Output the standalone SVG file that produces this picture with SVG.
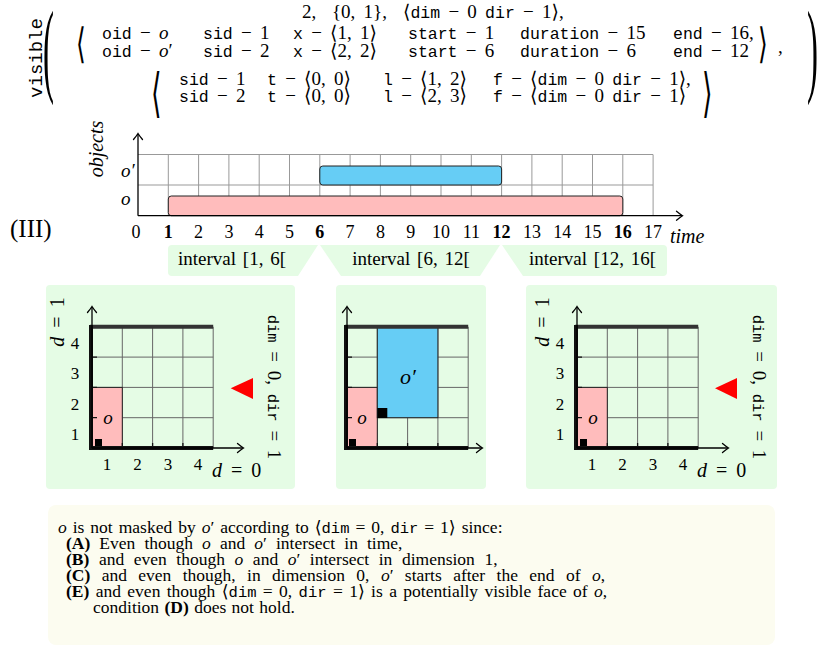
<svg xmlns="http://www.w3.org/2000/svg" width="821" height="649" viewBox="0 0 821 649">
<style>
.s{font-family:"Liberation Serif","DejaVu Serif",serif;font-size:19px;fill:#000}
.m{font-family:"Liberation Mono","DejaVu Sans Mono",monospace;font-size:16.5px}
.fm{word-spacing:3.5px}
.i{font-style:italic}
.b{font-weight:bold}
.ang{font-family:"DejaVu Serif","DejaVu Sans",serif}
.tg{stroke:#999;stroke-width:1;fill:none}
.pg{stroke:#666;stroke-width:1;fill:none}
.ax{stroke:#000;stroke-width:1.3;fill:none;marker-end:url(#arr)}
.green{fill:#e5fce5}
.pink{fill:#ffbcbc;stroke:#222;stroke-width:1}
.blue{fill:#66cdf5;stroke:#222;stroke-width:1}
.thk{stroke:#111;stroke-width:4;fill:none}
.thtop{stroke:#333;stroke-width:4;fill:none}
.tick{stroke:#111;stroke-width:1.3}
.num{font-size:18px}
.pn{font-size:17px}
.iv{font-size:19px;word-spacing:2px}
.bt{font-family:"Liberation Serif","DejaVu Serif",serif;font-size:17.5px}
.bt .m{font-size:15.5px}
.rl{font-size:19px;word-spacing:4px}
.rl .m{font-size:15.5px}
</style>
<defs>
<marker id="arr" markerUnits="userSpaceOnUse" viewBox="-7 -6 9 12" refX="0" refY="0" markerWidth="9" markerHeight="12" orient="auto"><path d="M-5.5,-4.5 Q-1.5,-1.2 0.5,0 Q-1.5,1.2 -5.5,4.5" fill="none" stroke="#000" stroke-width="1.3" stroke-linecap="round"/></marker>
</defs>
<rect width="821" height="649" fill="#fff"/>

<g id="formula">
<text class="m" transform="translate(42,58) rotate(-90)" text-anchor="middle" style="font-size:19px">visible</text>
<text class="s" transform="translate(43,0) scale(1,3.15)" y="26.5" style="font-size:33px">(</text>
<text class="s" transform="translate(807,0) scale(1,3.15)" y="26.5" style="font-size:33px">)</text>
<text class="s fm" y="18"><tspan x="302">2,</tspan><tspan x="332">{0, 1},</tspan><tspan x="403">⟨</tspan><tspan class="m">dim</tspan> − 0 <tspan class="m">dir</tspan> − 1⟩,</text>
<text class="ang" transform="translate(76,0) scale(1,1.67)" y="34.5" style="font-size:25px">⟨</text>
<text class="ang" transform="translate(758,0) scale(1,1.67)" y="34.5" style="font-size:25px">⟩</text>
<text class="s" x="778" y="53">,</text>
<text class="s fm" y="39"><tspan x="102" class="m">oid</tspan> − <tspan class="i">o</tspan><tspan x="203" class="m">sid</tspan> − 1<tspan x="293" class="m">x</tspan> − ⟨1, 1⟩<tspan x="408" class="m">start</tspan> − 1<tspan x="520" class="m">duration</tspan> − 15<tspan x="673" class="m">end</tspan> − 16,</text>
<text class="s fm" y="57"><tspan x="102" class="m">oid</tspan> − <tspan class="i">o</tspan>′<tspan x="203" class="m">sid</tspan> − 2<tspan x="293" class="m">x</tspan> − ⟨2, 2⟩<tspan x="408" class="m">start</tspan> − 6<tspan x="520" class="m">duration</tspan> − 6<tspan x="673" class="m">end</tspan> − 12</text>
<text class="ang" transform="translate(151,0) scale(1,1.95)" y="57" style="font-size:27px">⟨</text>
<text class="ang" transform="translate(702,0) scale(1,1.95)" y="57" style="font-size:27px">⟩</text>
<text class="s fm" y="85"><tspan x="179" class="m">sid</tspan> − 1<tspan x="267" class="m">t</tspan> − ⟨0, 0⟩<tspan x="383" class="m">l</tspan> − ⟨1, 2⟩<tspan x="493" class="m">f</tspan> − ⟨<tspan class="m">dim</tspan> − 0 <tspan class="m">dir</tspan> − 1⟩,</text>
<text class="s fm" y="102"><tspan x="179" class="m">sid</tspan> − 2<tspan x="267" class="m">t</tspan> − ⟨0, 0⟩<tspan x="383" class="m">l</tspan> − ⟨2, 3⟩<tspan x="493" class="m">f</tspan> − ⟨<tspan class="m">dim</tspan> − 0 <tspan class="m">dir</tspan> − 1⟩</text>
</g>

<g id="timeline">
<text class="s" x="10" y="237" style="font-size:25px">(III)</text>
<text class="s i" transform="translate(103,149) rotate(-90)" text-anchor="middle" style="font-size:20px">objects</text>
<text class="s i" x="121" y="177">o′</text>
<text class="s i" x="121" y="205">o</text>
<g class="tg">
<path d="M138,154.5H653M138,185H653"/>
<path d="M168.3,154.5V215.7M198.6,154.5V215.7M228.9,154.5V215.7M259.2,154.5V215.7M289.5,154.5V215.7M319.8,154.5V215.7M350.1,154.5V215.7M380.4,154.5V215.7M410.7,154.5V215.7M441,154.5V215.7M471.3,154.5V215.7M501.6,154.5V215.7M531.9,154.5V215.7M562.2,154.5V215.7M592.5,154.5V215.7M622.8,154.5V215.7M653.1,154.5V215.7"/>
</g>
<rect id="bar-o2" class="blue" x="319.8" y="166" width="181.8" height="19" rx="3"/>
<rect id="bar-o" class="pink" x="168.3" y="196" width="454.5" height="19.7" rx="3"/>
<g id="time-axes">
<path class="ax" d="M138,215.7V134"/>
<path class="ax" d="M138,215.7H682"/>
</g>
<g class="s num" text-anchor="middle">
<text x="136" y="238">0</text><text x="168.3" y="238" class="b">1</text><text x="198.6" y="238">2</text><text x="228.9" y="238">3</text><text x="259.2" y="238">4</text><text x="289.5" y="238">5</text><text x="319.8" y="238" class="b">6</text><text x="350.1" y="238">7</text><text x="380.4" y="238">8</text><text x="410.7" y="238">9</text><text x="441" y="238">10</text><text x="471.3" y="238">11</text><text x="501.6" y="238" class="b">12</text><text x="531.9" y="238">13</text><text x="562.2" y="238">14</text><text x="592.5" y="238">15</text><text x="622.8" y="238" class="b">16</text><text x="653.1" y="238">17</text>
</g>
<text class="s i" x="670" y="243" style="font-size:20px">time</text>
</g>

<g id="interval1">
<path class="green" d="M172,245H318L298,276H172Q168,276 168,272V249Q168,245 172,245Z"/>
<text class="s iv" x="232" y="265" text-anchor="middle">interval [1, 6[</text>
</g>
<g id="interval2">
<path class="green" d="M320,245H500L480,276H341Z"/>
<text class="s iv" x="411" y="265" text-anchor="middle">interval [6, 12[</text>
</g>
<g id="interval3">
<path class="green" d="M502,245H663Q667,245 667,249V272Q667,276 663,276H523Z"/>
<text class="s iv" x="592.5" y="265" text-anchor="middle">interval [12, 16[</text>
</g>

<g id="panel1">
<rect class="green" x="46" y="285" width="249" height="204" rx="4"/>
<g class="pg"><path d="M122.3,326.8V448M152.6,326.8V448M182.9,326.8V448M213.2,326.8V448M92,417.7H213.2M92,387.4H213.2M92,357.1H213.2"/></g>
<rect class="pink" x="92" y="387.4" width="30.3" height="60.6"/>
<path class="thtop" d="M90,326.8H213.2"/>
<path class="thk" d="M91,325V450M90,448H213.2"/>
<path class="tick" d="M92,357.1H97M92,387.4H97M92,417.7H97M122.3,448V443M152.6,448V443M182.9,448V443"/>
<rect x="95" y="439" width="7" height="7" fill="#000"/>
<path class="ax" d="M92,448V307"/>
<path class="ax" d="M92,448H243"/>
<text class="s i" x="108" y="424" text-anchor="middle">o</text>
<g class="s pn" text-anchor="middle"><text x="75" y="440">1</text><text x="75" y="410">2</text><text x="75" y="379">3</text><text x="75" y="349">4</text><text x="107" y="470">1</text><text x="137.5" y="470">2</text><text x="168" y="470">3</text><text x="198" y="470">4</text></g>
<text class="s" x="212" y="477" style="font-size:20px;word-spacing:4px"><tspan class="i">d</tspan> = 0</text>
<text class="s" transform="translate(64,322) rotate(-90)" text-anchor="middle" style="font-size:20px;word-spacing:4px"><tspan class="i">d</tspan> = 1</text>
<polygon points="230.7,388.3 253,378 253,399" fill="#f00"/>
<text class="s rl" transform="translate(268,387) rotate(90)" text-anchor="middle"><tspan class="m">dim</tspan> = 0, <tspan class="m">dir</tspan> = 1</text>
</g>

<g id="panel2">
<rect class="green" x="336" y="285" width="150" height="204" rx="4"/>
<g class="pg"><path d="M377.3,326.8V448M407.6,326.8V448M437.9,326.8V448M468.2,326.8V448M347,417.7H468.2M347,387.4H468.2M347,357.1H468.2"/></g>
<rect class="pink" x="347" y="387.4" width="30.3" height="60.6"/>
<rect class="blue" x="377.3" y="326.8" width="60.6" height="90.9"/>
<path class="thtop" d="M345,326.8H468.2"/>
<path class="thk" d="M346,325V450M345,448H468.2"/>
<path class="tick" d="M347,357.1H352M347,387.4H352M347,417.7H352M377.3,448V443M407.6,448V443M437.9,448V443"/>
<rect x="349" y="439" width="7" height="7" fill="#000"/>
<rect x="377.3" y="408" width="10" height="10" fill="#000"/>
<path class="ax" d="M347,448V307"/>
<path class="ax" d="M347,448H482"/>
<text class="s i" x="362" y="424" text-anchor="middle">o</text>
<text class="s i" x="408" y="384" text-anchor="middle" style="font-size:22px">o′</text>
</g>

<g id="panel3">
<rect class="green" x="526" y="285" width="251" height="204" rx="4"/>
<g class="pg"><path d="M607.3,326.8V448M637.6,326.8V448M667.9,326.8V448M698.2,326.8V448M577,417.7H698.2M577,387.4H698.2M577,357.1H698.2"/></g>
<rect class="pink" x="577" y="387.4" width="30.3" height="60.6"/>
<path class="thtop" d="M575,326.8H698.2"/>
<path class="thk" d="M576,325V450M575,448H698.2"/>
<path class="tick" d="M577,357.1H582M577,387.4H582M577,417.7H582M607.3,448V443M637.6,448V443M667.9,448V443"/>
<rect x="580" y="439" width="7" height="7" fill="#000"/>
<path class="ax" d="M577,448V307"/>
<path class="ax" d="M577,448H728"/>
<text class="s i" x="593" y="424" text-anchor="middle">o</text>
<g class="s pn" text-anchor="middle"><text x="560" y="440">1</text><text x="560" y="410">2</text><text x="560" y="379">3</text><text x="560" y="349">4</text><text x="592" y="470">1</text><text x="622.5" y="470">2</text><text x="653" y="470">3</text><text x="683" y="470">4</text></g>
<text class="s" x="697" y="477" style="font-size:20px;word-spacing:4px"><tspan class="i">d</tspan> = 0</text>
<text class="s" transform="translate(549,322) rotate(-90)" text-anchor="middle" style="font-size:20px;word-spacing:4px"><tspan class="i">d</tspan> = 1</text>
<polygon points="715,388.3 737,378 737,399" fill="#f00"/>
<text class="s rl" transform="translate(753,387) rotate(90)" text-anchor="middle"><tspan class="m">dim</tspan> = 0, <tspan class="m">dir</tspan> = 1</text>
</g>

<g id="explanation">
<rect x="48" y="505" width="727" height="140" rx="8" fill="#fcfcf0"/>
<g class="bt">
<text x="58" y="533" style="word-spacing:1.6px"><tspan class="i">o</tspan> is not masked by <tspan class="i">o</tspan>′ according to ⟨<tspan class="m">dim</tspan> = 0, <tspan class="m">dir</tspan> = 1⟩ since:</text>
<text x="66" y="549" style="word-spacing:4.7px"><tspan class="b">(A)</tspan> Even though <tspan class="i">o</tspan> and <tspan class="i">o</tspan>′ intersect in time,</text>
<text x="66" y="565" style="word-spacing:5.2px"><tspan class="b">(B)</tspan> and even though <tspan class="i">o</tspan> and <tspan class="i">o</tspan>′ intersect in dimension 1,</text>
<text x="66" y="581" style="word-spacing:7px"><tspan class="b">(C)</tspan> and even though, in dimension 0, <tspan class="i">o</tspan>′ starts after the end of <tspan class="i">o</tspan>,</text>
<text x="66" y="597" style="word-spacing:2px"><tspan class="b">(E)</tspan> and even though ⟨<tspan class="m">dim</tspan> = 0, <tspan class="m">dir</tspan> = 1⟩ is a potentially visible face of <tspan class="i">o</tspan>,</text>
<text x="93" y="613" style="word-spacing:1px">condition <tspan class="b">(D)</tspan> does not hold.</text>
</g>
</g>
</svg>
